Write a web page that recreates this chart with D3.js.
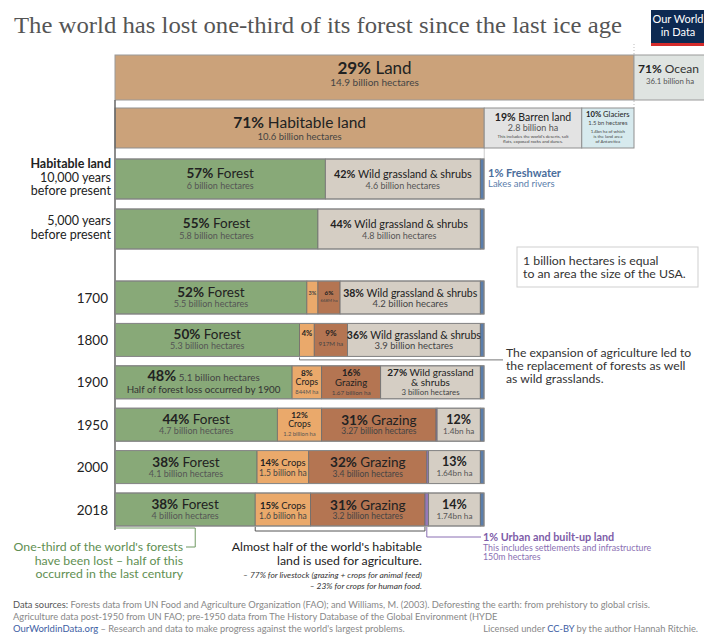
<!DOCTYPE html>
<html><head><meta charset="utf-8">
<script src="https://cdn.jsdelivr.net/npm/d3@7"></script>
<style>
body{margin:0;background:#fff;}
svg{display:block;font-family:Lato,"Noto Sans",sans-serif;}
</style></head><body>
<svg id="c" width="704" height="634"></svg>
<script>
// ---------------- DATA ----------------
const titleText = "The world has lost one-third of its forest since the last ice age";

const landCategories = ["Land", "Ocean"];
const landValues = [14.9, 36.1];            // billion hectares
const landPct = ["29%", "71%"];
const landHa = ["14.9 billion hectares", "36.1 billion ha"];

const habitableCategories = ["Habitable land", "Barren land", "Glaciers"];
const habitableValues = [10.6, 2.8, 1.5];  // billion hectares
const habitablePct = ["71%", "19%", "10%"];
const habitableHa = ["10.6 billion hectares", "2.8 billion ha", "1.5 bn hectares"];
const barrenNote = ["This includes the world's deserts, salt", "flats, exposed rocks and dunes."];
const glacierNote = ["1.4bn ha of which", "is the land area", "of Antarctica"];

const periods = ["10,000 BP", "5,000 BP", "1700", "1800", "1900", "1950", "2000", "2018"];
const periodLabels = [["10,000 years", "before present"], ["5,000 years", "before present"],
  ["1700"], ["1800"], ["1900"], ["1950"], ["2000"], ["2018"]];

const categories = ["Forest", "Crops", "Grazing", "Urban", "Wild", "Freshwater"];
// share of habitable land (%)
const forest     = [57, 55, 52, 50, 48, 44, 38.5, 38];
const crops      = [0, 0, 3, 4, 8, 12, 14, 15];
const grazing    = [0, 0, 6, 9, 16, 31, 32, 31];
const urban      = [0, 0, 0, 0, 0, 0.3, 0.5, 1];
const wild       = [42, 44, 38, 36, 27, 11.7, 14, 14];
const freshwater = [1, 1, 1, 1, 1, 1, 1, 1];

const forestPct  = ["57%", "55%", "52%", "50%", "48%", "44%", "38%", "38%"];
const cropsPct   = ["", "", "3%", "4%", "8%", "12%", "14%", "15%"];
const grazingPct = ["", "", "6%", "9%", "16%", "31%", "32%", "31%"];
const wildPct    = ["42%", "44%", "38%", "36%", "27%", "12%", "13%", "14%"];

const forestHa  = ["6 billion hectares", "5.8 billion hectares", "5.5 billion hectares", "5.3 billion hectares",
  "5.1 billion hectares", "4.7 billion hectares", "4.1 billion hectares", "4 billion hectares"];
const cropsHa   = ["", "", "", "", "844M ha", "1.2 billion ha", "1.5 billion ha", "1.6 billion ha"];
const grazingHa = ["", "", "668M ha", "917M ha", "1.67 billion ha", "3.27 billion hectares", "3.4 billion hectares", "3.2 billion hectares"];
const wildHa    = ["4.6 billion hectares", "4.8 billion hectares", "4.2 billion hecares", "3.9 billion hectares",
  "3 billion hectares", "1.4bn ha", "1.64bn ha", "1.74bn ha"];
const forestNote1900 = "Half of forest loss occurred by 1900";

// ---------------- STYLE ----------------
const colors = {
  Land: "#cba27a", Ocean: "#dfe4e1", "Habitable land": "#cba27a", "Barren land": "#e3e3e3", Glaciers: "#d7eaee",
  Forest: "#88a978", Crops: "#eaa96b", Grazing: "#b47552", Urban: "#9479b8", Wild: "#d5cec4", Freshwater: "#5b7eab"
};
const INK = "#222", SUB = "#555";

const svg = d3.select("#c");

// title
svg.append("text").attr("x", 14).attr("y", 33)
  .attr("font-family", "'Liberation Serif','DejaVu Serif',serif").attr("font-size", 24)
  .attr("fill", "#555").attr("textLength", 608).attr("lengthAdjust", "spacingAndGlyphs").text(titleText);

// logo
const logo = svg.append("g");
logo.append("rect").attr("x", 651).attr("y", 10).attr("width", 53).attr("height", 36).attr("fill", "#0d2a52");
logo.append("rect").attr("x", 651).attr("y", 43).attr("width", 53).attr("height", 3).attr("fill", "#d42b2b");
logo.append("text").attr("x", 678).attr("y", 23).attr("text-anchor", "middle").attr("fill", "#fff")
  .attr("font-size", 11).text("Our World");
logo.append("text").attr("x", 678).attr("y", 36).attr("text-anchor", "middle").attr("fill", "#fff")
  .attr("font-size", 11).text("in Data");

// scales
const xBn = d3.scaleLinear().domain([0, 14.9]).range([115, 634]);
const xPct = d3.scaleLinear().domain([0, 100]).range([115, 484]);
const yEarly = d3.scaleBand().domain(periods.slice(0, 2)).range([159, 249]).paddingInner(0.2);
const yLate = d3.scaleBand().domain(periods.slice(2)).range([281, 526]).paddingInner(0.2217);
const yTop = p => (yEarly.domain().includes(p) ? yEarly(p) : yLate(p));
const yH = p => (yEarly.domain().includes(p) ? yEarly.bandwidth() : yLate.bandwidth());

function addLine(g, x, y, runs, anchor) {
  const t = g.append("text").attr("x", x).attr("y", y).attr("text-anchor", anchor || "middle");
  runs.forEach(r => {
    t.append("tspan").text(r.t).attr("font-size", r.s).attr("font-weight", r.b ? 700 : 400)
      .attr("fill", r.f || INK).attr("font-style", r.i ? "italic" : null);
  });
  return t;
}

// guide lines
svg.append("line").attr("x1", xBn(14.9)).attr("x2", xBn(14.9)).attr("y1", 44).attr("y2", 108)
  .attr("stroke", "#bbb").attr("stroke-dasharray", "1,2");
svg.append("line").attr("x1", xBn(10.6)).attr("x2", xBn(10.6)).attr("y1", 148).attr("y2", 159)
  .attr("stroke", "#ccc");

// ---- Land / Ocean bar ----
let cum = 0;
const landG = svg.append("g");
landCategories.forEach((c, i) => {
  const x0 = xBn(cum), x1 = xBn(cum + landValues[i]);
  landG.append("rect").attr("x", x0).attr("y", 55).attr("width", x1 - x0).attr("height", 45)
    .attr("fill", colors[c]).attr("stroke", "#9a9a9a").attr("stroke-width", 1);
  cum += landValues[i];
});
addLine(landG, (xBn(0) + xBn(14.9)) / 2, 74, [{t: landPct[0], b: 1, s: 17}, {t: " " + landCategories[0], s: 17}]);
addLine(landG, (xBn(0) + xBn(14.9)) / 2, 86, [{t: landHa[0], s: 10, f: "#444"}]);
addLine(landG, xBn(14.9) + 4, 73, [{t: landPct[1], b: 1, s: 12}, {t: " " + landCategories[1], s: 12, f: "#333"}], "start");
addLine(landG, xBn(14.9) + 36, 83.5, [{t: landHa[1], s: 7.8, f: SUB}]);

// ---- Habitable / Barren / Glaciers ----
cum = 0;
const habG = svg.append("g");
const habX = [];
habitableCategories.forEach((c, i) => {
  const x0 = xBn(cum), x1 = xBn(cum + habitableValues[i]);
  habX.push([x0, x1]);
  habG.append("rect").attr("x", x0).attr("y", 108).attr("width", x1 - x0).attr("height", 40)
    .attr("fill", colors[c]).attr("stroke", "#8f8f8f").attr("stroke-width", 1);
  cum += habitableValues[i];
});
let cx = (habX[0][0] + habX[0][1]) / 2;
addLine(habG, cx, 128, [{t: habitablePct[0], b: 1, s: 15.5}, {t: " " + habitableCategories[0], s: 15.5}]);
addLine(habG, cx, 140, [{t: habitableHa[0], s: 9.5, f: "#444"}]);
cx = (habX[1][0] + habX[1][1]) / 2;
addLine(habG, cx, 121, [{t: habitablePct[1], b: 1, s: 10.5}, {t: " " + habitableCategories[1], s: 10.5}]);
addLine(habG, cx, 131, [{t: habitableHa[1], s: 9, f: SUB}]);
barrenNote.forEach((l, k) => addLine(habG, cx, 138 + k * 5, [{t: l, s: 4.4, f: "#444"}]));
cx = (habX[2][0] + habX[2][1]) / 2;
addLine(habG, cx, 117, [{t: habitablePct[2], b: 1, s: 7.6}, {t: " " + habitableCategories[2], s: 7.6}]);
addLine(habG, cx, 124.8, [{t: habitableHa[2], s: 5.8, f: "#444"}]);
glacierNote.forEach((l, k) => addLine(habG, cx, 133 + k * 5, [{t: l, s: 4.4, f: "#444"}]));

// ---- Habitable land over time ----
const table = periods.map((p, i) => ({period: p, Forest: forest[i], Crops: crops[i], Grazing: grazing[i],
  Urban: urban[i], Wild: wild[i], Freshwater: freshwater[i]}));
const series = d3.stack().keys(categories)(table);

// axis line
svg.append("line").attr("x1", 115).attr("x2", 115).attr("y1", 100).attr("y2", 530)
  .attr("stroke", "#666").attr("stroke-width", 1.5);

const rowsG = svg.append("g");
series.forEach(s => {
  rowsG.selectAll(null).data(s.filter(d => d[1] - d[0] > 0)).join("rect")
    .attr("x", d => xPct(d[0])).attr("width", d => xPct(d[1]) - xPct(d[0]))
    .attr("y", d => yTop(d.data.period)).attr("height", d => yH(d.data.period))
    .attr("fill", colors[s.key]).attr("stroke", "#6e6e6e").attr("stroke-width", 0.8);
});
rowsG.selectAll(".outline").data(periods).join("rect")
  .attr("x", xPct(0)).attr("width", xPct(100) - xPct(0)).attr("y", p => yTop(p)).attr("height", p => yH(p))
  .attr("fill", "none").attr("stroke", "#8a8a8a").attr("stroke-width", 1);

// segment labels
function segLabels(i, key) {
  const late = i >= 2;
  const L1 = late ? 16 : 19, L2 = late ? 26 : 30;
  if (key === "Forest") {
    if (i === 4) return [
      {y: 15, runs: [{t: forestPct[i], b: 1, s: 14.5}, {t: "  " + forestHa[i], s: 9.8, f: "#444"}]},
      {y: 27, runs: [{t: forestNote1900, s: 9.8, f: "#333"}]}];
    return [{y: L1, runs: [{t: forestPct[i], b: 1, s: 13.5}, {t: " Forest", s: 13.5}]},
            {y: L2, runs: [{t: forestHa[i], s: 9, f: SUB}]}];
  }
  if (key === "Crops") {
    if (i === 2) return [{y: 14, runs: [{t: cropsPct[i], b: 1, s: 5.5, f: "#444"}]}];
    if (i === 3) return [{y: 12.5, runs: [{t: cropsPct[i], b: 1, s: 7.5}]}];
    if (i === 4 || i === 5) return [
      {y: 10, runs: [{t: cropsPct[i], b: 1, s: 8.3}]},
      {y: 19, runs: [{t: "Crops", s: 8.8}]},
      {y: 27.8, runs: [{t: cropsHa[i], s: 5.8, f: SUB}]}];
    return [{y: 15.5, runs: [{t: cropsPct[i], b: 1, s: 9.5}, {t: " Crops", s: 9.5}]},
            {y: 25.5, runs: [{t: cropsHa[i], s: 8.5, f: "#444"}]}];
  }
  if (key === "Grazing") {
    if (i === 2) return [{y: 13.5, runs: [{t: grazingPct[i], b: 1, s: 6.3}]},
                         {y: 20.5, runs: [{t: grazingHa[i], s: 4.3, f: "#444"}]}];
    if (i === 3) return [{y: 12.5, runs: [{t: grazingPct[i], b: 1, s: 8}]},
                         {y: 22.5, runs: [{t: grazingHa[i], s: 6.2, f: "#444"}]}];
    if (i === 4) return [
      {y: 10.3, runs: [{t: grazingPct[i], b: 1, s: 9.3}]},
      {y: 20, runs: [{t: "Grazing", s: 9.6}]},
      {y: 28.7, runs: [{t: grazingHa[i], s: 6.3, f: "#444"}]}];
    return [{y: 16.5, runs: [{t: grazingPct[i], b: 1, s: 13.5}, {t: " Grazing", s: 13.5}]},
            {y: 26, runs: [{t: grazingHa[i], s: 8.5, f: "#444"}]}];
  }
  if (key === "Wild") {
    if (i <= 1) return [{y: L1, runs: [{t: wildPct[i], b: 1, s: 10.8}, {t: " Wild grassland & shrubs", s: 10.8}]},
                        {y: L2, runs: [{t: wildHa[i], s: 9, f: SUB}]}];
    if (i <= 3) return [{y: 15.5, runs: [{t: wildPct[i], b: 1, s: 10.5}, {t: " Wild grassland & shrubs", s: 10.5}]},
                        {y: 26, runs: [{t: wildHa[i], s: 9.5, f: "#444"}]}];
    if (i === 4) return [
      {y: 9.8, runs: [{t: wildPct[i], b: 1, s: 10}, {t: " Wild grassland", s: 10}]},
      {y: 20, runs: [{t: "& shrubs", s: 10}]},
      {y: 29.6, runs: [{t: wildHa[i], s: 7.8, f: "#444"}]}];
    return [{y: 15.5, runs: [{t: wildPct[i], b: 1, s: 12.5}]},
            {y: 25.8, runs: [{t: wildHa[i], s: 8.2, f: SUB}]}];
  }
  return [];
}
const labG = svg.append("g");
series.forEach(s => {
  s.forEach((d, i) => {
    if (d[1] - d[0] <= 0) return;
    const cxs = (xPct(d[0]) + xPct(d[1])) / 2, top = yTop(d.data.period);
    segLabels(i, s.key).forEach(l => addLine(labG, cxs, top + l.y, l.runs));
  });
});

// row labels
const rowLab = svg.append("g");
addLine(rowLab, 111, yTop(periods[0]) + 9, [{t: "Habitable land", b: 1, s: 12.5}], "end");
periods.forEach((p, i) => {
  const top = yTop(p);
  if (i === 0) periodLabels[i].forEach((l, k) => addLine(rowLab, 111, top + 23 + k * 13, [{t: l, s: 12.5}], "end"));
  else if (i === 1) periodLabels[i].forEach((l, k) => addLine(rowLab, 111, top + 16 + k * 14, [{t: l, s: 12.5}], "end"));
  else addLine(rowLab, 108, top + 21.5, [{t: periodLabels[i][0], s: 13.5}], "end");
});

// freshwater label
addLine(svg, xPct(100) + 4, yTop(periods[0]) + 18, [{t: "1% Freshwater", b: 1, s: 11, f: "#4a6d9c"}], "start");
addLine(svg, xPct(100) + 4, yTop(periods[0]) + 28, [{t: "Lakes and rivers", s: 9.5, f: "#5b7eab"}], "start");

// USA box
svg.append("rect").attr("x", 517).attr("y", 247).attr("width", 181).attr("height", 40)
  .attr("fill", "#fff").attr("stroke", "#cfcfcf");
addLine(svg, 523, 264.5, [{t: "1 billion hectares is equal", s: 12.3, f: "#333"}], "start");
addLine(svg, 523, 278, [{t: "to an area the size of the USA.", s: 12.3, f: "#333"}], "start");

// expansion annotation
const y1800b = yTop("1800") + yH("1800");
svg.append("path").attr("d", `M${xPct(50)},${y1800b + 1}V${y1800b + 3.5}H503`).attr("fill", "none")
  .attr("stroke", "#777").attr("stroke-width", 1);
["The expansion of agriculture led to", "the replacement of forests as well", "as wild grasslands."]
  .forEach((l, k) => addLine(svg, 506, 357 + k * 13, [{t: l, s: 12.2, f: "#333"}], "start"));

// bottom annotations
const y18 = yTop("2018") + yH("2018");
const fEnd = xPct(forest[7]);
svg.append("path").attr("d", `M${xPct(0)},${y18 + 2}H${fEnd - 60}M${fEnd - 60},${y18 + 2}V${y18 + 21}H186`)
  .attr("fill", "none").attr("stroke", "#6f9962").attr("stroke-width", 1);
["One-third of the world's forests", "have been lost – half of this", "occurred in the last century"]
  .forEach((l, k) => addLine(svg, 183, 551 + k * 13.5, [{t: l, s: 12.3, f: "#5f8f52"}], "end"));

const aStart = xPct(forest[7]), aEnd = xPct(forest[7] + crops[7] + grazing[7]);
svg.append("path").attr("d", `M${aStart},${y18 + 1}V${y18 + 5}H${aEnd}V${y18 + 1}`)
  .attr("fill", "none").attr("stroke", "#555").attr("stroke-width", 1);
addLine(svg, 422, 551, [{t: "Almost half of the world's habitable", s: 12.3}], "end");
addLine(svg, 422, 565, [{t: "land is used for agriculture.", s: 12.3}], "end");
addLine(svg, 422, 577.5, [{t: "– 77% for livestock (grazing + crops for animal feed)", s: 8.4, i: 1, f: "#333"}], "end");
addLine(svg, 422, 589, [{t: "– 23% for crops for human food.", s: 8.4, i: 1, f: "#333"}], "end");

const uX = (xPct(forest[7] + crops[7] + grazing[7]) + xPct(forest[7] + crops[7] + grazing[7] + urban[7])) / 2;
svg.append("path").attr("d", `M${uX},${y18 + 1}V${y18 + 11}H481`).attr("fill", "none")
  .attr("stroke", "#8a6fb3").attr("stroke-width", 1);
addLine(svg, 483, 541, [{t: "1% Urban and built-up land", b: 1, s: 10.8, f: "#7d5ca8"}], "start");
addLine(svg, 483, 550.5, [{t: "This includes settlements and infrastructure", s: 8.8, f: "#8a6fb3"}], "start");
addLine(svg, 483, 559.5, [{t: "150m hectares", s: 8.8, f: "#8a6fb3"}], "start");

// footer
const FS = 9.3;
addLine(svg, 13, 608, [{t: "Data sources: ", s: FS, f: "#555"},
  {t: "Forests data from UN Food and Agriculture Organization (FAO); and Williams, M. (2003). Deforesting the earth: from prehistory to global crisis.", s: FS, f: "#888"}], "start");
addLine(svg, 13, 619.5, [{t: "Agriculture data post-1950 from UN FAO; pre-1950 data from The History Database of the Global Environment (HYDE", s: FS, f: "#888"}], "start");
addLine(svg, 13, 632, [{t: "OurWorldinData.org", s: 9.5, f: "#3d5ea3"},
  {t: " – Research and data to make progress against the world's largest problems.", s: FS, f: "#888"}], "start");
addLine(svg, 698, 632, [{t: "Licensed under ", s: FS, f: "#888"}, {t: "CC-BY", s: FS, f: "#3d5ea3"},
  {t: " by the author Hannah Ritchie.", s: FS, f: "#888"}], "end");
</script>
</body></html>
